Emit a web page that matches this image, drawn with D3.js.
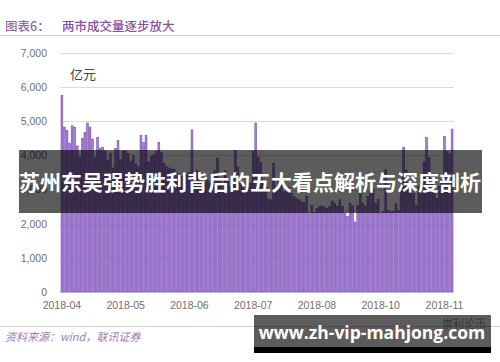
<!DOCTYPE html>
<html>
<head>
<meta charset="utf-8">
<script src="https://cdn.jsdelivr.net/npm/d3@7"></script>
<style>
  body { margin: 0; background: #fff; }
  svg { display: block; }
</style>
</head>
<body>
<div id="chart"></div>
<script>
// daily turnover, 亿元
const values = [
  5750, 4830, 4730, 4360, 4870, 4830, 4280, 3970, 4500, 4670,
  4950, 4830, 4480, 3940, 4520, 4210, 4240, 4130, 3850, 4070,
  3630, 4210, 4440, 3870, 4130, 4130, 4050, 3820, 4010, 3750,
  3680, 4590, 4380, 4590, 3810, 3970, 4020, 4120, 4380, 4090,
  3770, 3680, 3630, 3600, 3600, 3480, 3460, 3380, 3380, 3450,
  3500, 4750, 3300, 3560, 3380, 3280, 3210, 3280, 3190, 3280,
  3560, 3920, 3300, 3190, 3560, 3240, 3090, 3190, 4140, 3660,
  3190, 3090, 2990, 3090, 3190, 4110, 4950, 3950, 3790, 3280,
  3090, 2720, 2700, 3770, 3090, 3280, 3190, 2930, 2990, 3070,
  2890, 2800, 2740, 2700, 2640, 2620, 2800, 2310, 2540, 2330,
  2440, 2500, 2520, 2480, 2440, 2500, 2660, 2600, 2500, 2700,
  2500, 2310, 2210, 2600, 2520, 2050, 2540, 2890, 2600, 2500,
  2800, 2940, 3010, 2600, 2720, 2310, 2360, 3580, 2390, 2350,
  2370, 2580, 2390, 3090, 4240, 3580, 3090, 2990, 2890, 2540,
  3090, 2990, 3810, 4520, 3930, 3280, 2890, 2740, 3090, 3280,
  4560, 4110, 4050, 4770
];
const categories = values.map((v, i) => i);
const tickLabels = ["2018-04", "2018-05", "2018-06", "2018-07", "2018-08", "2018-10", "2018-11"];
const tickEvery = 25;
const yTicks = [0, 1000, 2000, 3000, 4000, 5000, 6000, 7000];

const width = 500;
const height = 362;
const latin = "'Liberation Sans', Arial, sans-serif";
const cjk = "'Noto Sans CJK SC', sans-serif";

const svg = d3
  .select("#chart")
  .append("svg")
  .attr("width", width)
  .attr("height", height);

const x = d3.scaleBand().domain(categories).range([61, 453]).paddingInner(0.28);
const y = d3.scaleLinear().domain([0, 7000]).range([292, 53]);

// title
svg.append("text")
  .attr("x", 5).attr("y", 31)
  .attr("font-family", cjk).attr("font-size", 12.5).attr("font-weight", 500)
  .attr("fill", "#8e6a9c")
  .text("图表6：");
svg.append("text")
  .attr("x", 62).attr("y", 31)
  .attr("font-family", cjk).attr("font-size", 12.5).attr("font-weight", 500)
  .attr("fill", "#8a4f9e")
  .text("两市成交量逐步放大");
svg.append("line")
  .attr("x1", 0).attr("x2", width).attr("y1", 35.5).attr("y2", 35.5)
  .attr("stroke", "#d0cbd2").attr("stroke-width", 1);

// gridlines
svg.append("g")
  .selectAll("line")
  .data(yTicks)
  .join("line")
  .attr("x1", 60).attr("x2", 454)
  .attr("y1", (d) => Math.round(y(d)) + 0.5)
  .attr("y2", (d) => Math.round(y(d)) + 0.5)
  .attr("stroke", "#dcdcdc").attr("stroke-width", 1);

// y axis labels
const yAxis = svg.append("g")
  .attr("transform", "translate(47,0)")
  .call(d3.axisLeft(y).tickValues(yTicks).tickSize(0).tickPadding(0).tickFormat(d3.format(",")));
yAxis.select(".domain").remove();
yAxis.selectAll("text")
  .attr("font-family", latin).attr("font-size", 10.5).attr("fill", "#707070");

svg.append("text")
  .attr("x", 70).attr("y", 79)
  .attr("font-family", cjk).attr("font-size", 13)
  .attr("fill", "#444")
  .text("亿元");

// bars
svg.append("g")
  .selectAll("rect")
  .data(values)
  .join("rect")
  .attr("x", (d, i) => x(i))
  .attr("y", (d) => y(d))
  .attr("width", x.bandwidth())
  .attr("height", (d) => y(0) - y(d))
  .attr("fill", "#a682da")
  .attr("stroke", "#7b4fae")
  .attr("stroke-width", 0.6);

// x axis labels
const xAxis = svg.append("g")
  .attr("transform", "translate(0,302)")
  .call(
    d3.axisBottom(x)
      .tickValues(tickLabels.map((t, k) => k * tickEvery))
      .tickSize(0)
      .tickPadding(0)
      .tickFormat((d) => tickLabels[d / tickEvery])
  );
xAxis.select(".domain").remove();
xAxis.selectAll("text")
  .attr("font-family", latin).attr("font-size", 10.5).attr("fill", "#707070");

// footer
svg.append("line")
  .attr("x1", 0).attr("x2", width).attr("y1", 326.5).attr("y2", 326.5)
  .attr("stroke", "#d0cbd2").attr("stroke-width", 1);
svg.append("text")
  .attr("x", 5).attr("y", 341)
  .attr("font-family", cjk).attr("font-size", 11).attr("font-style", "italic")
  .attr("fill", "#a07cb0")
  .text("资料来源：wind，联讯证券");

// faint watermark
svg.append("text")
  .attr("x", 486).attr("y", 328)
  .attr("text-anchor", "end")
  .attr("font-family", cjk).attr("font-size", 11)
  .attr("fill", "#9a9a9a")
  .text("崇利论币");

// headline banner
svg.append("rect")
  .attr("x", 19).attr("y", 150).attr("width", 463).attr("height", 63)
  .attr("fill", "#000").attr("fill-opacity", 0.64);
svg.append("text")
  .attr("x", 250).attr("y", 190)
  .attr("text-anchor", "middle")
  .attr("font-family", cjk).attr("font-size", 21).attr("font-weight", "bold")
  .attr("fill", "#fff")
  .text("苏州东吴强势胜利背后的五大看点解析与深度剖析");

// url banner
svg.append("rect")
  .attr("x", 254).attr("y", 315).attr("width", 237).attr("height", 32)
  .attr("fill", "#000").attr("fill-opacity", 0.64);
svg.append("rect")
  .attr("x", 254).attr("y", 347).attr("width", 237).attr("height", 6)
  .attr("fill", "#000");
svg.append("text")
  .attr("x", 372).attr("y", 339)
  .attr("text-anchor", "middle")
  .attr("font-family", "'Open Sans', sans-serif").attr("font-size", 17.5).attr("font-weight", "bold")
  .attr("fill", "#fff")
  .text("www.zh-vip-mahjong.com");
</script>
</body>
</html>
